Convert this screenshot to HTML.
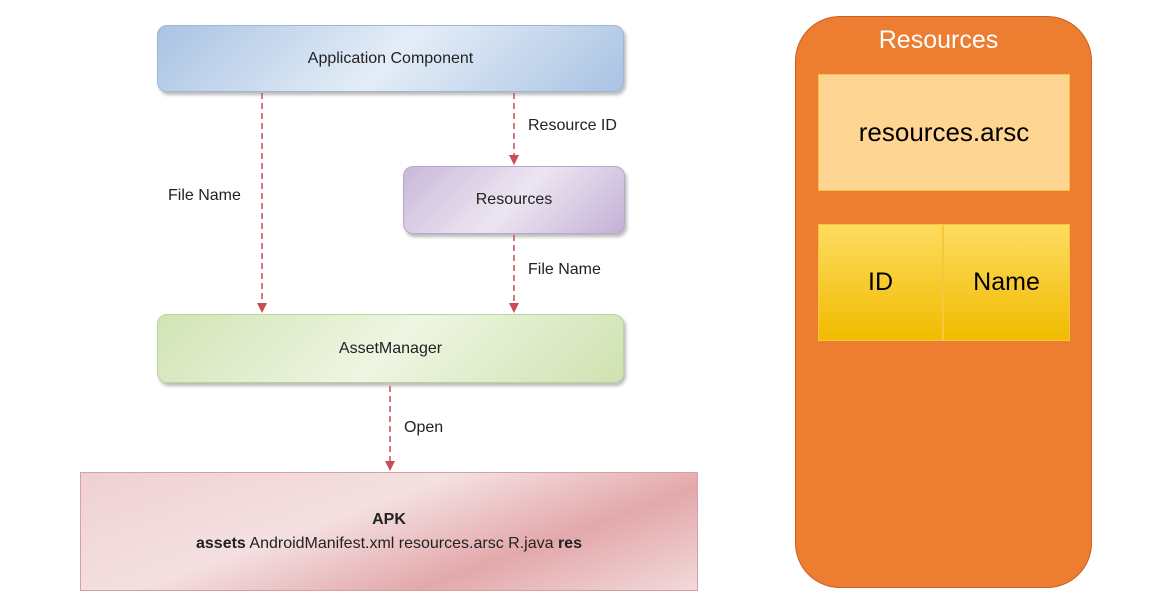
<!DOCTYPE html>
<html><head><style>
body{margin:0;width:1160px;height:607px;background:#fff;position:relative;overflow:hidden;font-family:"Liberation Sans",sans-serif}
.b{position:absolute;box-sizing:border-box;display:flex;align-items:center;justify-content:center;font-size:16px;color:#222}
.l{position:absolute;font-size:16px;color:#222}
</style></head><body>
<div class="b" style="left:157px;top:25px;width:467px;height:67px;border-radius:10px;border:1px solid #9db6d6;background:linear-gradient(135deg,#a9c3e3,#e4edf7 50%,#a9c3e3);box-shadow:2px 3px 3px #bbb">Application Component</div>
<div class="b" style="left:403px;top:166px;width:222px;height:68px;border-radius:10px;border:1px solid #b9a8cb;background:linear-gradient(135deg,#c9b8da,#ece5f1 50%,#c4b1d6);box-shadow:2px 3px 3px #bbb">Resources</div>
<div class="b" style="left:157px;top:314px;width:467px;height:69px;border-radius:10px;border:1px solid #bcd39a;background:linear-gradient(135deg,#d2e4b5,#eef5e2 50%,#cfe2b0);box-shadow:2px 3px 3px #bbb">AssetManager</div>
<div class="b" style="left:80px;top:472px;width:618px;height:119px;border:1px solid #d9a0a4;background:linear-gradient(160deg,#efd0d2,#f4e0e1 40%,#e3a8ab 70%,#f2d9da);flex-direction:column;line-height:24px"><b>APK</b><div><b>assets</b> AndroidManifest.xml resources.arsc R.java <b>res</b></div></div>
<svg width="1160" height="607" style="position:absolute;left:0;top:0" fill="#c94d55">
<g stroke="#c94d55" stroke-width="1.5" stroke-dasharray="6,4">
<line x1="262" y1="93" x2="262" y2="304"/><line x1="514" y1="93" x2="514" y2="156"/><line x1="514" y1="235" x2="514" y2="304"/><line x1="390" y1="386" x2="390" y2="462"/></g>
<polygon points="257,303 267,303 262,313"/><polygon points="509,155 519,155 514,165"/><polygon points="509,303 519,303 514,313"/><polygon points="385,461 395,461 390,471"/>
</svg>
<div class="l" style="left:528px;top:117px">Resource ID</div>
<div class="l" style="left:168px;top:187px">File Name</div>
<div class="l" style="left:528px;top:261px">File Name</div>
<div class="l" style="left:404px;top:419px">Open</div>
<div style="position:absolute;left:795px;top:16px;width:297px;height:572px;border-radius:45px;background:#ed7d31;border:1px solid #c86020;box-sizing:border-box"></div>
<div class="l" style="left:795px;top:26px;width:287px;text-align:center;font-size:25px;color:#fff">Resources</div>
<div class="b" style="left:818px;top:74px;width:252px;height:117px;background:#fed592;border:1px solid #f5c342;font-size:26px;color:#000">resources.arsc</div>
<div class="b" style="left:818px;top:224px;width:125px;height:117px;background:linear-gradient(#fedc60,#f1bb00);border:1px solid #f7c83c;font-size:25px;color:#000">ID</div>
<div class="b" style="left:943px;top:224px;width:127px;height:117px;background:linear-gradient(#fedc60,#f1bb00);border:1px solid #f7c83c;font-size:25px;color:#000">Name</div>
</body></html>
